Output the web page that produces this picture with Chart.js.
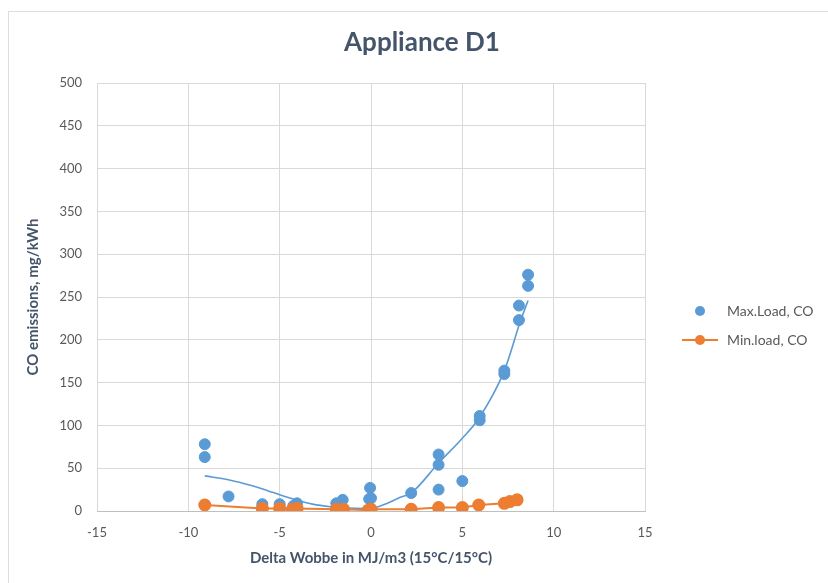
<!DOCTYPE html>
<html>
<head>
<meta charset="utf-8">
<title>Appliance D1</title>
<script src="https://cdn.jsdelivr.net/npm/chart.js@4.4.1/dist/chart.umd.min.js"></script>
<style>
  html, body { margin: 0; padding: 0; background: #fff; overflow: hidden; }
  #wrap { position: relative; width: 828px; height: 583px; }
  #frame { position: absolute; left: 8px; top: 11px; width: 900px; height: 700px;
           border-top: 1px solid #d9dde4; border-left: 1px solid #d9dde4; }
  canvas { position: absolute; left: 0; top: 0; }
</style>
</head>
<body>
<div id="wrap">
  <div id="frame"></div>
  <canvas id="grafico" width="828" height="583"></canvas>
</div>
<script>
// Carga máxima: Delta Wobbe (MJ/m3) y CO (mg/kWh)
const maxX = [-9.1, -9.1, -7.8, -5.95, -5.0, -4.25, -4.05, -1.9, -1.55, -0.05, -0.1, 0.0,
              2.2, 3.7, 3.7, 3.7, 5.0, 5.95, 5.95, 7.3, 7.3, 8.1, 8.1, 8.6, 8.6];
const maxCO = [78, 63, 17, 8, 8, 6, 9, 9, 13, 27, 14, 15,
               21, 66, 54, 25, 35, 111, 106, 164, 160, 240, 223, 276, 263];

// Carga mínima
const minX = [-9.1, -5.95, -5.0, -4.3, -4.05, -1.9, -1.5, -0.15, 0.0, 2.2, 3.7, 5.0, 5.9, 7.3, 7.6, 8.0];
const minCO = [7, 3, 3, 2, 3, 2, 2, 1, 2, 2, 4, 4, 7, 9, 11, 13];

// Línea de tendencia de la carga máxima
const tendX = [-9.1, -7.7, -6.6, -5.7, -5.0, -4.1, -3.2, -2.2, -1.3, -0.4, 0.4, 0.9, 1.6, 2.2, 3.7, 5.0, 5.9, 7.3, 8.2, 8.6];
const tendCO = [41, 36, 30, 24, 19, 13, 8, 5, 3.5, 3, 5, 9, 16, 21, 56, 85, 108, 164, 223, 246];

const xTicks = [-15, -10, -5, 0, 5, 10, 15];

const azul = "#5b9bd5";
const naranja = "#ed7d31";
const gris = "#595959";
const pizarra = "#44546a";
const fuente = "Lato, 'Open Sans', sans-serif";

const toPoints = (xs, ys) => xs.map((x, i) => ({ x: x, y: ys[i] }));

// Título centrado en todo el lienzo y leyenda a la derecha del área del gráfico
const rotulos = {
  id: "rotulos",
  afterDraw(chart) {
    const ctx = chart.ctx;
    const a = chart.chartArea;
    ctx.save();
    ctx.font = "bold 26px " + fuente;
    ctx.fillStyle = pizarra;
    ctx.textAlign = "center";
    ctx.textBaseline = "middle";
    ctx.fillText("Appliance D1", chart.width / 2 + 8, 43);

    const items = [
      { label: "Max.Load, CO", color: azul, line: false, dy: 228 },
      { label: "Min.load, CO", color: naranja, line: true, dy: 257 }
    ];
    ctx.font = "14px " + fuente;
    ctx.textAlign = "left";
    items.forEach(it => {
      const cy = a.top + it.dy;
      const cx = a.right + 55;
      if (it.line) {
        ctx.strokeStyle = it.color;
        ctx.lineWidth = 2;
        ctx.beginPath();
        ctx.moveTo(cx - 18, cy);
        ctx.lineTo(cx + 18, cy);
        ctx.stroke();
      }
      ctx.fillStyle = it.color;
      ctx.beginPath();
      ctx.arc(cx, cy, 5, 0, Math.PI * 2);
      ctx.fill();
      ctx.fillStyle = gris;
      ctx.fillText(it.label, a.right + 82, cy);
    });
    ctx.restore();
  }
};

new Chart(document.getElementById("grafico"), {
  type: "scatter",
  data: {
    datasets: [
      {
        label: "Max.Load, CO",
        data: toPoints(maxX, maxCO),
        backgroundColor: azul,
        borderColor: azul,
        pointRadius: 5.5,
        pointHoverRadius: 5.5,
        order: 2
      },
      {
        label: "Tendencia",
        data: toPoints(tendX, tendCO),
        showLine: true,
        borderColor: azul,
        borderWidth: 1.6,
        pointRadius: 0,
        cubicInterpolationMode: "monotone",
        order: 3
      },
      {
        label: "Min.load, CO",
        data: toPoints(minX, minCO),
        showLine: true,
        backgroundColor: naranja,
        borderColor: naranja,
        borderWidth: 2,
        pointRadius: 5.5,
        pointHoverRadius: 5.5,
        order: 1
      }
    ]
  },
  options: {
    responsive: false,
    animation: false,
    layout: { padding: { left: 18, right: 183, top: 83, bottom: 16 } },
    plugins: {
      legend: { display: false },
      tooltip: { enabled: false },
      title: { display: false }
    },
    scales: {
      x: {
        type: "linear",
        min: -15,
        max: 15,
        afterBuildTicks: s => { s.ticks = xTicks.map(v => ({ value: v })); },
        afterFit: s => { s.height = 56; },
        grid: { color: "#d9d9d9", drawTicks: false },
        border: { color: "#bfbfbf", width: 1 },
        ticks: { color: gris, padding: 14, font: { family: fuente, size: 13 } },
        title: {
          display: true,
          text: "Delta Wobbe in MJ/m3 (15°C/15°C)",
          color: pizarra,
          font: { family: fuente, size: 15, weight: "bold", lineHeight: 1.2 },
          padding: { top: 8.4, bottom: 0 }
        }
      },
      y: {
        min: 0,
        max: 500,
        afterFit: s => { s.width = 79; },
        grid: { color: "#d9d9d9", drawTicks: false },
        border: { display: false },
        ticks: { stepSize: 50, color: gris, padding: 15, font: { family: fuente, size: 13 } },
        title: {
          display: true,
          text: "CO emissions, mg/kWh",
          color: pizarra,
          font: { family: fuente, size: 15, weight: "bold", lineHeight: 1.2 },
          padding: { top: 6, bottom: 0 }
        }
      }
    }
  },
  plugins: [rotulos]
});
</script>
</body>
</html>
